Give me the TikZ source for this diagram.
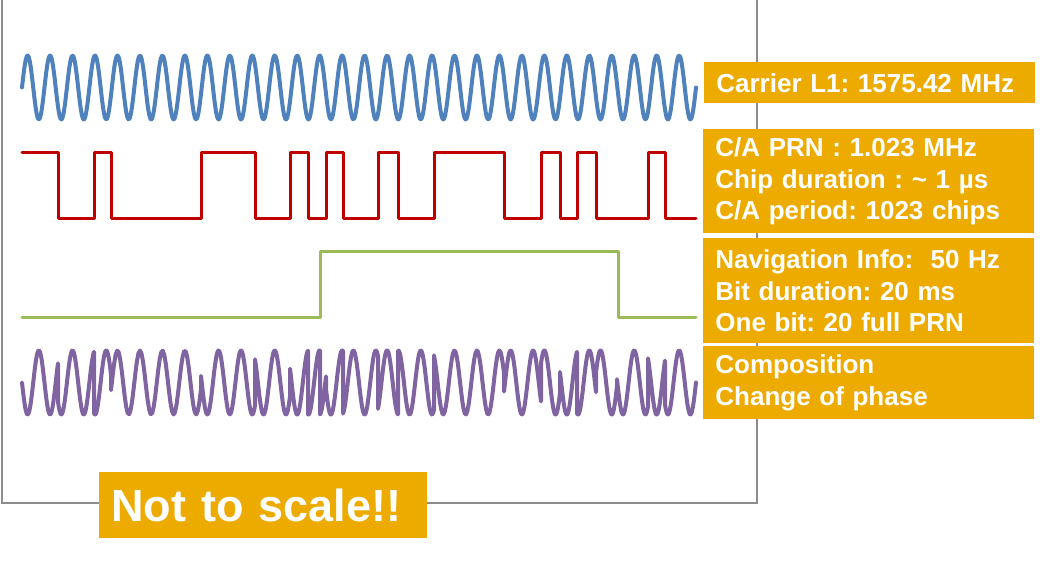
\documentclass[tikz,border=0pt]{standalone}
\usepackage{fontspec}
\setmainfont{Liberation Sans}
\usepackage{tikz}
\usetikzlibrary{positioning}
\definecolor{framegray}{RGB}{140,140,140}
\definecolor{carrierblue}{RGB}{79,129,189}
\definecolor{prnred}{RGB}{192,0,0}
\definecolor{navgreen}{RGB}{155,187,89}
\definecolor{comppurple}{RGB}{128,100,162}
\definecolor{boxorange}{RGB}{237,171,0}
\frenchspacing

\begin{document}
\begin{tikzpicture}[
                x=0.5pt, y=-0.5pt,
                wave/.style={line width=1.5pt, line join=round, line cap=round},
                infobox/.style={rectangle, fill=boxorange, text=white, font=\fontsize{13}{15.6}\selectfont\bfseries, align=left, anchor=north west, inner xsep=6pt, inner ysep=0pt, text width=153.5pt},
                scalebox/.style={rectangle, fill=boxorange, text=white, font=\fontsize{22.5}{27}\selectfont\bfseries, align=left, anchor=north west, inner xsep=6pt, inner ysep=0pt, text width=152pt, minimum height=33pt}
                ]
                \useasboundingbox (0,0) rectangle (1040,561);

                % frame of the plot area
                \draw[framegray, line width=1pt] (1.5,0) -- (1.5,503) -- (757,503) -- (757,0);

                % carrier
                \draw[wave, carrierblue, line width=2pt] plot[domain=22:696, samples=700] (\x, {87.5 - 32*sin((\x-22)*16.02374)});

                % C/A code
                \draw[wave, prnred] (22,153) -| (58,219) -| (94,153) -| (111,219) -| (201,153) -| (255,219)
                    -| (290,153) -| (308,219) -| (326,153) -| (343,219) -| (378,153) -| (398,219) -| (434,153)
                    -| (504,219) -| (541,153) -| (560,219) -| (577,153) -| (596,219) -| (648,153) -| (665,219) -- (696,219);

                % navigation bits
                \draw[wave, navgreen] (22,318) -| (320,252) -| (618,318) -- (696,318);

                % composition
                \draw[wave, comppurple, line width=2pt] (22,383)
                    \foreach \a/\b/\s in {22/58/-1, 58/94/1, 94/111/-1, 111/201/1, 201/255/-1, 255/290/1, 290/308/-1,
                        308/320/1, 320/326/-1, 326/343/1, 343/378/-1, 378/398/1, 398/434/-1, 434/504/1, 504/541/-1,
                        541/560/1, 560/577/-1, 577/596/1, 596/617/-1, 617/648/1, 648/665/-1, 665/696/1}
                    { -- plot[domain=\a:\b, samples=60] (\x, {382.5 - \s*32*sin((\x-22)*16.02374)}) };

                \node[infobox, minimum height=20.5pt] (carrier) at (704,62) {Carrier L1: 1575.42 MHz};
                \node[infobox, minimum height=52pt] (prn) at (703,129) {C/A PRN : 1.023 MHz\\Chip duration : \textasciitilde{} 1 µs\\C/A period: 1023 chips};
                \node[infobox, minimum height=52.5pt] (nav) at (703,238) {Navigation Info:\ \ 50 Hz\\Bit duration: 20 ms\\One bit: 20 full PRN};
                \node[infobox, minimum height=36.5pt] (comp) at (703,346) {Composition\\Change of phase};

                \node[scalebox] (scale) at (99,472) {Not to scale!!};
            \end{tikzpicture}
\end{document}
